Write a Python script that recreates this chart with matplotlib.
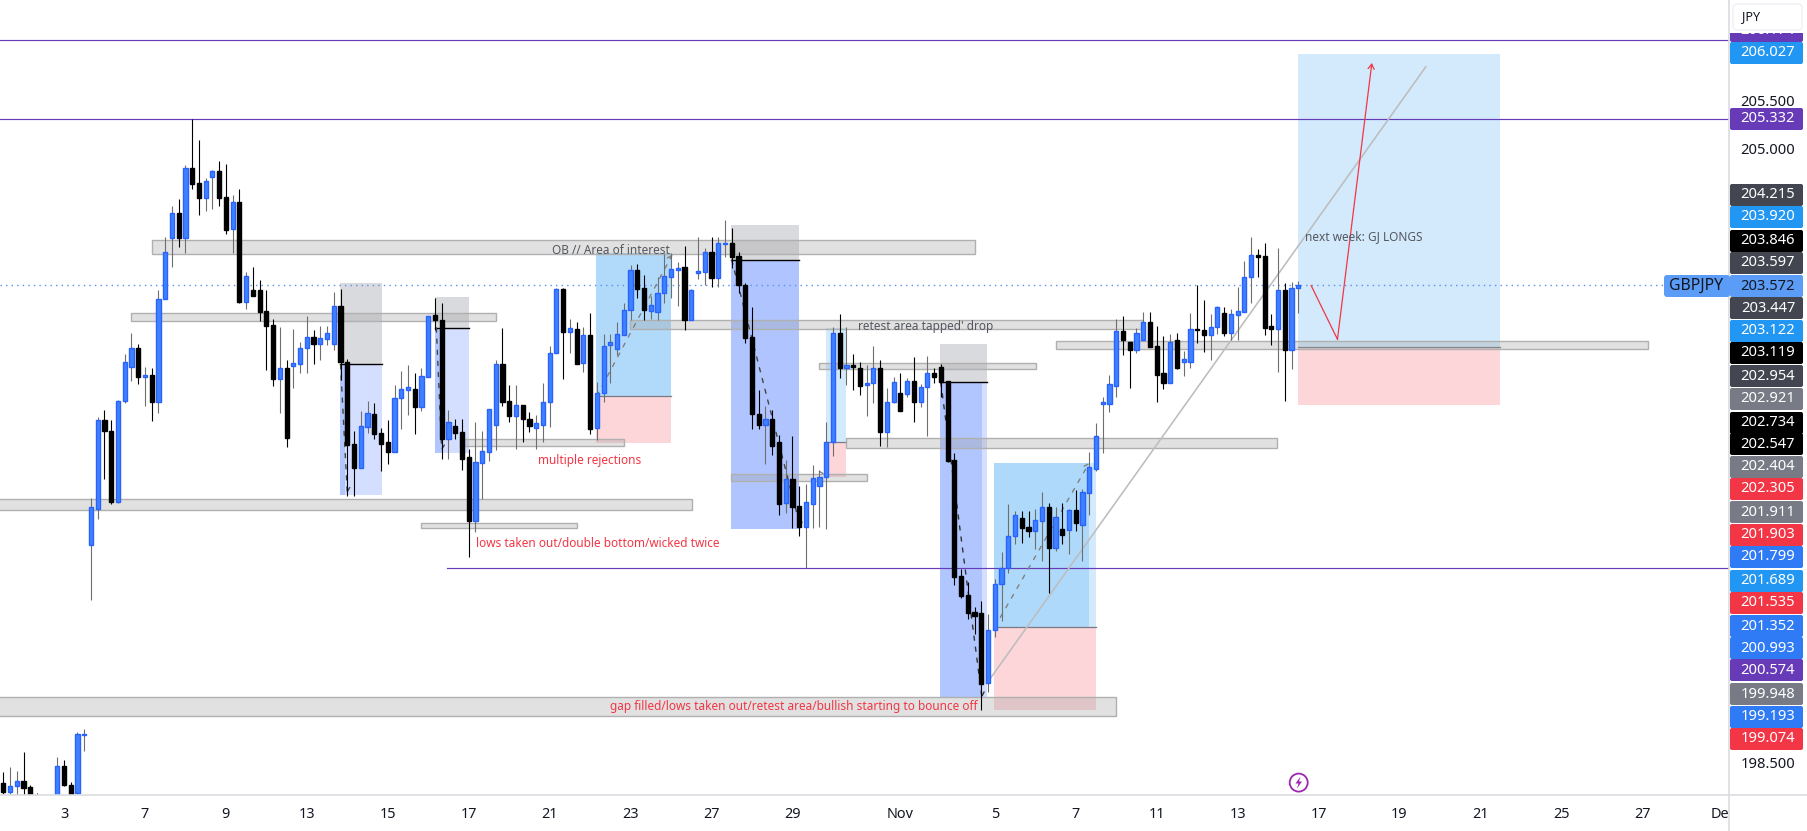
import matplotlib
matplotlib.use('Agg')
import matplotlib.pyplot as plt
from matplotlib.patches import Rectangle, FancyBboxPatch, Circle, Polygon
from matplotlib.transforms import Bbox
import numpy as np

plt.rcParams['font.family'] = ['Noto Sans', 'DejaVu Sans']

# GBPJPY 4h candles
opens = [198.29,198.20,198.26,198.32,198.25,198.12,197.80,197.90,198.00,198.48,
         198.27,198.19,198.80,200.82,201.20,202.14,202.03,201.27,202.35,202.71,
         202.91,202.60,202.62,202.33,203.43,204.07,204.34,204.07,204.82,204.66,
         204.50,204.72,204.79,204.51,204.17,204.46,203.40,203.52,203.52,203.30,
         203.15,202.58,202.70,202.72,202.74,202.91,203.02,202.95,203.00,202.95,
         203.35,202.76,201.89,201.64,202.07,202.21,202.01,201.91,201.81,202.38,
         202.46,202.47,202.28,202.60,203.26,203.20,201.94,202.08,202.02,201.75,
         201.07,201.69,201.80,202.09,202.74,202.35,202.19,202.30,202.15,202.06,
         202.09,202.33,202.85,203.53,203.08,203.11,202.75,203.05,202.06,202.43,
         202.94,202.90,203.05,203.31,203.74,203.54,203.30,203.29,203.49,203.66,
         203.74,203.77,203.21,203.70,203.71,203.93,203.65,204.01,204.02,203.88,
         203.58,203.02,202.21,202.09,202.16,201.91,201.26,201.52,201.23,201.01,
         201.25,201.44,201.54,201.91,203.07,202.70,202.73,202.70,202.52,202.54,
         202.70,202.02,202.33,202.43,202.42,202.56,202.34,202.49,202.64,202.71,
         202.56,201.72,200.49,200.29,200.11,200.10,199.36,199.92,200.41,200.58,
         200.91,201.10,201.01,200.97,201.07,201.22,200.79,200.99,200.98,201.19,
         201.03,201.37,201.63,202.31,202.31,202.51,203.09,202.97,202.89,202.99,
         203.18,202.93,202.64,202.54,202.99,202.76,202.76,203.11,203.10,203.05,
         203.13,203.28,203.07,203.26,203.29,203.66,203.89,203.88,203.14,203.11,
         203.52,202.89,203.54]
highs = [198.41,198.46,198.42,198.62,198.27,198.19,198.00,198.10,198.57,198.54,
         198.31,198.84,198.87,201.32,202.18,202.25,202.14,202.36,202.84,203.07,
         202.95,202.71,202.70,203.52,204.08,204.41,204.49,204.85,205.34,205.11,
         204.71,204.80,204.89,204.86,204.53,204.59,203.71,203.77,203.63,203.52,
         203.22,203.13,202.78,203.11,202.97,203.25,203.10,203.14,203.14,203.50,
         203.53,202.79,202.03,202.24,202.35,202.32,202.06,202.14,202.52,202.66,
         202.73,202.64,202.70,203.25,203.44,203.38,202.25,202.15,202.15,201.84,
         202.12,202.03,202.26,202.78,203.12,202.52,202.52,202.30,202.23,202.20,
         202.54,202.93,203.54,203.54,203.22,203.18,203.13,203.28,202.55,203.06,
         203.06,203.18,203.39,203.79,203.80,203.68,203.46,203.66,203.90,203.92,
         203.82,203.99,203.53,204.08,203.97,204.09,204.08,204.26,204.18,203.93,
         203.60,203.34,202.46,202.29,202.25,201.99,201.72,201.97,201.44,201.47,
         201.67,201.61,202.12,203.13,203.27,203.13,202.84,202.76,202.73,202.93,
         202.78,202.48,202.60,202.64,202.59,202.81,202.53,202.82,202.70,202.74,
         202.56,201.79,200.56,200.43,200.16,200.23,200.09,200.46,200.74,201.25,
         201.18,201.18,201.18,201.20,201.38,201.26,201.22,201.26,201.20,201.40,
         201.41,201.81,202.11,202.39,202.62,203.22,203.25,202.97,203.12,203.29,
         203.29,203.14,203.04,203.06,203.07,202.88,203.28,203.58,203.42,203.27,
         203.35,203.34,203.32,203.55,203.83,204.09,203.96,204.02,203.27,203.97,
         203.60,203.61,203.62]
lows = [198.18,198.17,198.17,198.12,198.02,197.90,197.70,197.85,197.95,198.26,
        198.17,198.17,198.63,200.24,201.09,201.52,201.25,201.26,202.32,202.56,
        202.53,202.29,202.13,202.22,203.43,203.77,203.98,203.92,204.59,204.32,
        204.36,204.38,204.41,204.12,203.92,203.39,203.32,203.46,203.19,202.67,
        202.50,202.22,201.86,202.48,202.64,202.64,202.74,202.78,202.94,202.89,
        202.57,201.34,201.34,201.64,202.01,201.94,201.60,201.68,201.80,202.05,
        202.20,202.00,202.24,202.60,203.10,201.73,201.73,201.94,201.61,200.69,
        200.96,201.31,201.71,201.83,202.29,202.12,201.84,201.91,202.02,201.84,
        201.91,202.07,202.85,202.58,202.86,202.74,202.65,202.00,201.93,202.34,
        202.54,202.83,203.05,203.21,203.44,203.21,203.22,203.21,203.39,203.44,
        203.35,203.10,203.21,203.64,203.58,203.55,203.56,203.87,203.76,203.49,
        202.96,202.05,202.05,201.68,201.77,201.14,201.16,201.00,200.91,200.58,
        201.00,201.01,200.99,201.76,202.59,202.52,202.46,202.41,202.19,202.32,
        201.87,201.86,202.32,202.24,202.39,202.12,202.28,201.97,202.54,202.39,
        201.70,200.39,200.26,200.03,199.88,199.07,199.26,199.84,200.01,200.52,
        200.83,200.84,200.90,200.78,200.65,200.31,200.76,200.83,200.72,200.97,
        200.65,201.14,201.60,201.79,202.23,202.39,202.83,202.48,202.86,202.99,
        202.92,202.34,202.47,202.54,202.69,202.61,202.70,202.96,202.87,202.78,
        203.06,203.04,202.99,202.99,203.29,203.38,203.66,203.05,202.94,202.65,
        202.35,202.68,203.28]
closes = [198.20,198.26,198.32,198.24,198.07,197.95,197.95,198.05,198.48,198.27,
          198.18,198.81,198.81,201.22,202.14,202.03,201.27,202.35,202.76,202.91,
          202.60,202.62,202.33,203.43,203.93,204.34,204.07,204.82,204.65,204.50,
          204.68,204.79,204.50,204.16,204.46,203.40,203.67,203.46,203.29,203.14,
          202.58,202.70,201.95,202.75,202.91,203.02,202.95,203.01,203.07,203.35,
          202.76,201.88,201.64,202.08,202.22,202.00,201.89,201.81,202.38,202.47,
          202.49,202.28,202.61,203.25,203.20,201.94,202.12,202.01,201.73,201.07,
          201.70,201.82,202.26,202.74,202.34,202.19,202.30,202.15,202.08,202.11,
          202.33,202.86,203.53,203.08,203.12,202.74,203.05,202.05,202.43,202.93,
          202.97,203.06,203.31,203.74,203.53,203.31,203.36,203.49,203.67,203.75,
          203.76,203.21,203.52,203.72,203.93,203.65,204.02,204.02,203.87,203.58,
          203.01,202.21,202.09,202.16,201.87,201.25,201.52,201.22,201.01,201.27,
          201.53,201.54,201.91,203.07,202.70,202.73,202.71,202.51,202.54,202.70,
          202.02,202.34,202.55,202.24,202.56,202.34,202.49,202.64,202.60,202.55,
          201.71,200.48,200.28,200.10,200.07,199.34,199.92,200.41,200.58,200.91,
          201.14,201.00,200.97,201.08,201.22,200.79,201.12,200.93,201.19,201.05,
          201.38,201.65,201.97,202.34,202.53,203.09,202.99,202.89,203.07,203.18,
          202.92,202.62,202.54,202.97,202.70,202.79,203.11,203.10,203.05,203.13,
          203.34,203.07,203.27,203.30,203.66,203.89,203.87,203.12,203.11,203.52,
          202.89,203.54,203.572]

last_price = 203.572
# index positions of the time scale labels
tick_pos = [9,21,33,45,57,69,81,93,105,117,133,147,159,171,183,195,207,219,231,243,255]
tick_labels = ['3','7','9','13','15','17','21','23','27','29','Nov','5','7','11','13','17','19','21','25','27','Dec']

# supply/demand zones: first bar, last bar, low, high
zone_start = [22,19,-2,62,-2,67.7,92.9,107.9,120.9,124.9,156]
zone_end = [144,73,102.1,85,164.9,92,169,128,153.1,188.8,243.8]
zone_low = [203.90,203.19,201.19,201.00,199.01,201.87,203.11,201.50,202.69,201.85,202.90]
zone_high = [204.05,203.28,201.31,201.05,199.21,201.94,203.20,201.57,202.75,201.95,202.98]

# horizontal levels
level_prices = [206.174,205.332,200.574]
level_start = [-2,-2,65.8]

# labels stacked on the price scale
tag_text = ['206.174','206.027','205.332','204.215','203.920','203.846','203.597','203.572','203.447',
            '203.122','203.119','202.954','202.921','202.734','202.547','202.404','202.305','201.911',
            '201.903','201.799','201.689','201.535','201.352','200.993','200.574','199.948','199.193','199.074']
tag_y = [31,53,119,195,217,241,263,286,308,331,353,376,399,423,444,467,489,512,535,557,581,603,626,648,670,694,717,739]
tag_col = ['#673ab7','#2196f3','#673ab7','#434651','#2196f3','#000000','#434651','#5b9cf6','#434651',
           '#2196f3','#000000','#434651','#787b86','#000000','#000000','#787b86','#f23645','#787b86',
           '#f23645','#2f7bf6','#2196f3','#f23645','#2f7bf6','#2f7bf6','#673ab7','#787b86','#2f7bf6','#f23645']
scale_text = ['205.500','205.000','198.500']
scale_y = [102,151,764]


def box(ax, x0, x1, p0, p1, col, alpha, z=1, edge='none', lw=0):
    ax.add_patch(Rectangle((x0, p0), x1 - x0, p1 - p0, facecolor=matplotlib.colors.to_rgba(col, alpha),
                           edgecolor=edge, linewidth=lw, zorder=z))


def dashed_arrow(ax, a, b, col):
    ax.annotate('', xy=b, xytext=a, zorder=3,
                arrowprops=dict(arrowstyle='->,head_length=0.3,head_width=0.2', color=col,
                                lw=1, linestyle=(0, (3, 5)), shrinkA=0, shrinkB=0))


W, H = 1807, 831
fig = plt.figure(figsize=(W / 100, H / 100), dpi=100, facecolor='white')
ax = fig.add_axes([0, (H - 795) / H, 1729 / W, 795 / H])
ax.set_xlim(-0.49, 255.85)
ax.set_ylim(198.168, 206.598)
for s in ax.spines.values():
    s.set_visible(False)

# sell setups: grey stop block, blue target block
for x0, x1, top, mid, bot in [(49.9, 56.1, 203.597, 202.734, 201.352),
                              (64, 69, 203.447, 203.119, 201.799),
                              (138.9, 145.9, 202.954, 202.547, 199.193)]:
    box(ax, x0, x1, mid, top, '#787b86', 0.28)
    box(ax, x0, x1, bot, mid, '#2962ff', 0.2)
    ax.plot([x0, x1], [mid, mid], color='black', lw=1, zorder=2)
box(ax, 49.9, 50.7, 201.352, 202.734, '#2962ff', 0.2)
box(ax, 64, 65, 201.799, 203.119, '#2962ff', 0.2)
box(ax, 138.9, 145.1, 199.193, 202.547, '#2962ff', 0.2)
box(ax, 107.9, 118, 203.846, 204.215, '#787b86', 0.28)
box(ax, 107.9, 118, 200.993, 203.846, '#2962ff', 0.37)
ax.plot([107.9, 118], [203.846, 203.846], color='black', lw=1, zorder=2)

# buy setups: blue target, red stop
for x0, x1, top, mid, bot, a in [(87.9, 99, 203.92, 202.404, 201.903, 0.35),
                                 (122, 125, 203.122, 201.911, 201.535, 0.2),
                                 (146.9, 162, 201.689, 199.948, 199.074, 0.2),
                                 (192, 221.9, 206.027, 202.921, 202.305, 0.2)]:
    box(ax, x0, x1, mid, top, '#2196f3', a)
    box(ax, x0, x1, bot, mid, '#f23645', 0.2)
    ax.plot([x0, x1], [mid, mid], color='#787b86', lw=0.9, zorder=2)
box(ax, 146.9, 161, 199.948, 201.689, '#2196f3', 0.2)

for i in range(len(zone_start)):
    box(ax, zone_start[i], zone_end[i], zone_low[i], zone_high[i], '#9e9e9e', 0.3, z=2, edge='#b0b0b0', lw=1)

for p, x0 in zip(level_prices, level_start):
    ax.plot([x0, 260], [p, p], color='#673ab7', lw=0.85, zorder=3)
ax.axhline(last_price, color='#5b8def', lw=1, linestyle=(0, (1, 3)), zorder=3)

# trend line and planned move
ax.plot([145.9, 210.9], [199.36, 205.89], color='#bdbdbd', lw=1.15, zorder=3)
ax.plot([193.9, 197.8], [203.57, 203.00], color='#f23645', lw=0.9, zorder=3)
ax.annotate('', xy=(202.9, 205.93), xytext=(197.8, 203.00), zorder=3,
            arrowprops=dict(arrowstyle='->,head_length=0.35,head_width=0.22', color='#f23645', lw=0.9,
                            shrinkA=0, shrinkB=0))

dashed_arrow(ax, (50, 202.73), (51, 201.37), '#444444')
dashed_arrow(ax, (64.2, 203.12), (65, 201.82), '#444444')
dashed_arrow(ax, (88, 202.40), (99.2, 203.90), '#808080')
dashed_arrow(ax, (108, 203.84), (118.2, 201.0), '#444444')
dashed_arrow(ax, (121, 201.6), (122.3, 201.54), '#808080')
dashed_arrow(ax, (139, 202.54), (145.1, 199.2), '#333333')
dashed_arrow(ax, (147, 199.95), (161, 201.69), '#808080')

# candles
o = np.array(opens)
h = np.array(highs)
l = np.array(lows)
c = np.array(closes)
x = np.arange(len(o))
up = c > o
ax.vlines(x[up], l[up], h[up], color='#6e6e6e', lw=0.8, zorder=4)
ax.vlines(x[~up], l[~up], h[~up], color='black', lw=0.8, zorder=4)
ax.bar(x[up], (c - o)[up], bottom=o[up], width=0.62, color='#3f82ff', edgecolor='#2962ff', linewidth=1, zorder=5)
ax.bar(x[~up], (o - c)[~up], bottom=c[~up], width=0.62, color='black', edgecolor='black', linewidth=1, zorder=5)

# notes on the chart
grey = '#555860'
red = '#f23645'
fs = 8.5
ax.text(90.1, 203.945, 'OB // Area of interest', color=grey, fontsize=fs, ha='center', va='center', zorder=6)
ax.text(86.9, 201.72, 'multiple rejections', color=red, fontsize=fs, ha='center', va='center', zorder=6)
ax.text(88.1, 200.83, 'lows taken out/double bottom/wicked twice', color=red, fontsize=fs, ha='center', va='center', zorder=6)
ax.text(136.8, 203.135, "retest area tapped' drop", color=grey, fontsize=fs, ha='center', va='center', zorder=6)
ax.text(117.2, 199.11, 'gap filled/lows taken out/retest area/bullish starting to bounce off', color=red, fontsize=fs, ha='center', va='center', zorder=6)
ax.text(201.7, 204.09, 'next week: GJ LONGS', color=grey, fontsize=fs, ha='center', va='center', zorder=6)

ax.set_yticks([])
ax.set_xticks(tick_pos, tick_labels, fontsize=10.4, color='#131722')
ax.tick_params(axis='x', length=0, pad=9)
for t in ax.get_xticklabels():
    if t.get_text() in ('Nov', 'Dec'):
        t.set_fontweight('bold')
    if t.get_text() == 'Dec':
        t.set_clip_box(Bbox([[0, 0], [1729, H]]))
        t.set_clip_on(True)

# price scale drawn in pixel space over the chart
ov = fig.add_axes([0, 0, 1, 1])
ov.set_xlim(0, W)
ov.set_ylim(H, 0)
ov.axis('off')
ov.patch.set_visible(False)
ov.plot([1729, 1729], [0, H], color='#d9dbe0', lw=1.2)
ov.plot([0, W], [795, 795], color='#d9dbe0', lw=1.2)

for txt, y in zip(scale_text, scale_y):
    ov.text(1768, y, txt, fontsize=10.6, color='#131722', ha='center', va='center')

for txt, y, col in zip(tag_text, tag_y, tag_col):
    ov.add_patch(FancyBboxPatch((1730, y - 11), 73, 22, boxstyle='round,pad=0,rounding_size=2',
                                facecolor=col, edgecolor='none', zorder=3))
    tc = '#131722' if txt == '203.572' else 'white'
    ov.text(1768, y, txt, fontsize=10.6, color=tc, ha='center', va='center', zorder=4)

# symbol tag next to the last price
ov.add_patch(FancyBboxPatch((1664, 275), 66, 22, boxstyle='round,pad=0,rounding_size=3',
                            facecolor='#5b9cf6', edgecolor='none', zorder=3))
ov.text(1696, 286, 'GBPJPY', fontsize=11.4, color='#131722', ha='center', va='center', zorder=4)

# currency button covers the top of the scale
ov.add_patch(Rectangle((1730, 0), 77, 33, facecolor='white', edgecolor='none', zorder=5))
ov.add_patch(FancyBboxPatch((1733, 4), 69, 26, boxstyle='round,pad=0,rounding_size=4',
                            facecolor='white', edgecolor='#eef0f4', lw=1, zorder=6))
ov.text(1751, 17, 'JPY', fontsize=9, color='#131722', ha='center', va='center', zorder=7)

# lightning icon
ov.add_patch(Circle((1298.7, 782.6), 9, facecolor='white', edgecolor='#9c27b0', lw=1.3, zorder=3))
ov.add_patch(Polygon([(1300.5, 776.5), (1295.5, 783.5), (1298.5, 783.5), (1297, 788.5), (1302, 781.5), (1299, 781.5)],
                     facecolor='#9c27b0', edgecolor='none', zorder=4))

fig.savefig('out.png', dpi=100, facecolor='white')
